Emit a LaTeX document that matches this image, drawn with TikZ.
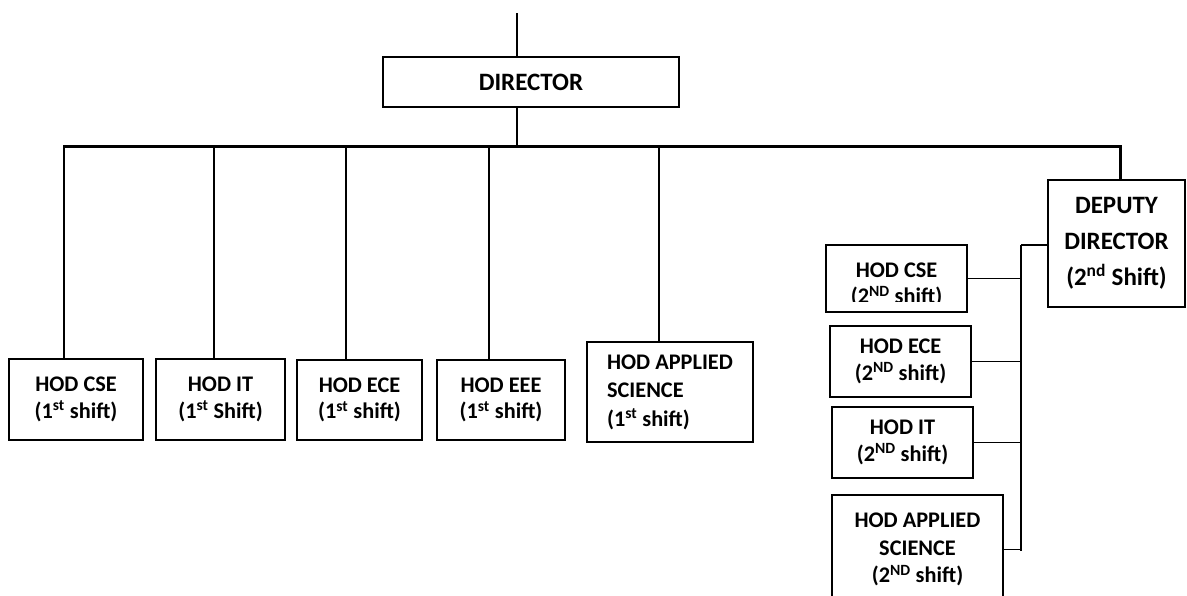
\documentclass[tikz,border=0pt]{standalone}
\usepackage{fontspec}
\setmainfont{Carlito}
\usetikzlibrary{calc}

\tikzset{
  box/.style={draw, rectangle, line width=2.3pt, inner sep=0pt, align=center,
    font=\bfseries\fontsize{22.3}{26.5}\selectfont},
  link/.style={line width=2.2pt},
  bus/.style={line width=3pt},
  thinlink/.style={line width=1.8pt}
}

\begin{document}
\begin{tikzpicture}[x=1pt,y=-1pt]
		%%%%% START %%%%%
		\useasboundingbox (0,0) rectangle (1187,595);
		
		\node[box, minimum width=296pt, minimum height=50pt,
		  font=\bfseries\fontsize{25}{30}\selectfont] (director) at (531,82) {DIRECTOR};
		
		% first shift
		\node[box, minimum width=134pt, minimum height=81pt] (cseA) at (76,399.5) {HOD CSE\\(1\textsuperscript{st} shift)};
		\node[box, minimum width=129pt, minimum height=81pt] (itA) at (220.5,399.5) {HOD IT\\(1\textsuperscript{st} Shift)};
		\node[box, minimum width=125pt, minimum height=80pt] (eceA) at (359.5,400) {HOD ECE\\(1\textsuperscript{st} shift)};
		\node[box, minimum width=128pt, minimum height=80pt] (eeeA) at (501,400) {HOD EEE\\(1\textsuperscript{st} shift)};
		\node[box, minimum width=166pt, minimum height=100pt, inner xsep=20pt, align=left,
		  font=\bfseries\fontsize{22.3}{28.5}\selectfont] (asA) at (670,392) {HOD APPLIED\\SCIENCE\\(1\textsuperscript{st} shift)};
		
		% second shift
		\node[box, minimum width=137pt, minimum height=127pt,
		  font=\bfseries\fontsize{25}{36}\selectfont] (dydir) at (1116.5,243.5) {DEPUTY\\DIRECTOR\\(2\textsuperscript{nd} Shift)};
		\node[box, minimum width=141pt, minimum height=67pt] (cseB) at (896.5,278.5) {};
		\begin{scope}
			\clip (826,245) rectangle (967,301);
			\node[box, draw=none] (cseBtext) at (896.5,285) {HOD CSE\\(2\textsuperscript{ND} shift)};
		\end{scope}
		\node[box, minimum width=141pt, minimum height=71pt] (eceB) at (900.5,361.5) {HOD ECE\\(2\textsuperscript{ND} shift)};
		\node[box, minimum width=141pt, minimum height=71pt] (itB) at (902.5,442.5) {HOD IT\\(2\textsuperscript{ND} shift)};
		\node[box, minimum width=171pt, minimum height=109pt,
		  font=\bfseries\fontsize{22.3}{27.5}\selectfont] (asB) at (917.5,549.5) {HOD APPLIED\\SCIENCE\\(2\textsuperscript{ND} shift)};
		
		% connectors
		\coordinate (topend) at (517,13);
		\coordinate (busL) at (63,146);
		\coordinate (busR) at (1120,146);
		\draw[link] (topend) -- (topend |- director.north);
		\draw[link] (topend |- director.south) -- (topend |- busL);
		\draw[bus] (busL) -- (busR) -- (busR |- dydir.north);
		\foreach \x/\n in {64/cseA, 214/itA, 346/eceA, 489/eeeA, 659/asA}
			\draw[link] (\x,146) -- (\x,0 |- \n.north);
		
		\coordinate (spineT) at (1021,245);
		\coordinate (spineB) at (1021,551);
		\draw[link] (dydir.west |- spineT) -- (spineT);
		\draw[thinlink] (spineT) -- (spineB);
		\foreach \n in {cseB, eceB, itB, asB}
			\draw[thinlink] (\n.east) -- (spineT |- \n.east);
		
		%%%%% END %%%%%
\end{tikzpicture}
\end{document}
